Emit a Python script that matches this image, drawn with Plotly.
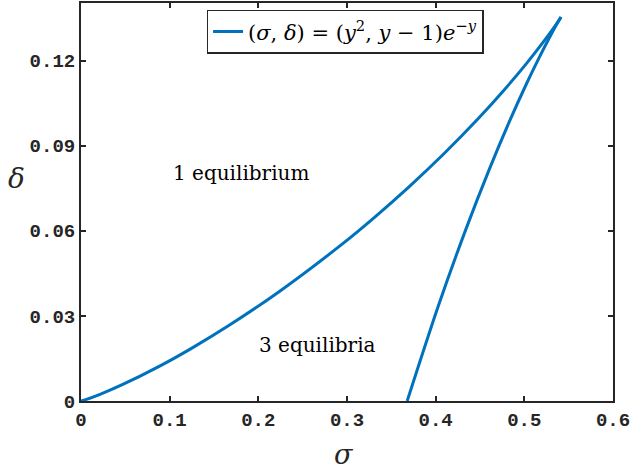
import plotly.graph_objects as go

# points, lower branch: (1/e, 0) up to the cusp
sigma_lower = [0.36788, 0.40277, 0.43371, 0.46058, 0.48333, 0.50204,
               0.51686, 0.52796, 0.53557, 0.53995, 0.54134]
delta_lower = [0.0, 0.033287, 0.060239, 0.081759, 0.098639, 0.11157,
               0.12114, 0.12788, 0.13224, 0.13461, 0.135335]

# upper branch: cusp back down to the origin
sigma_upper = [0.54134, 0.54003, 0.53629, 0.52254, 0.50209, 0.47675,
               0.44808, 0.40955, 0.36992, 0.33072, 0.29305, 0.22496,
               0.16845, 0.12363, 0.089235, 0.044682, 0.02147, 0.00454,
               0.000163, 0.0]
delta_upper = [0.135335, 0.1347, 0.13296, 0.12701, 0.11884, 0.10946,
               0.099574, 0.087242, 0.075493, 0.064675, 0.054947, 0.038882,
               0.026952, 0.018391, 0.012394, 0.0054713, 0.0023482, 0.000409,
               0.0000108, 0.0]

x_ticks = [0, 0.1, 0.2, 0.3, 0.4, 0.5, 0.6]
x_tick_labels = ["0", "0.1", "0.2", "0.3", "0.4", "0.5", "0.6"]
y_ticks = [0, 0.03, 0.06, 0.09, 0.12]
y_tick_labels = ["0", "0.03", "0.06", "0.09", "0.12"]

region_labels = ["1 equilibrium", "3 equilibria"]
region_x = [0.1805, 0.267]
region_y = [0.0804, 0.0197]

line_color = "#0072BD"
axis_color = "#262626"
serif = "DejaVu Serif, serif"

fig = go.Figure()

fig.add_trace(
    go.Scatter(
        x=sigma_lower,
        y=delta_lower,
        mode="lines",
        line=dict(color=line_color, width=3, shape="spline", smoothing=0.8),
        name="(<i>σ</i>, <i>δ</i>) = (<i>y</i><sup>2</sup>, <i>y</i> − 1)<i>e</i><sup>−<i>y</i></sup>",
        legendgroup="curve",
    )
)
fig.add_trace(
    go.Scatter(
        x=sigma_upper,
        y=delta_upper,
        mode="lines",
        line=dict(color=line_color, width=3, shape="spline", smoothing=0.8),
        legendgroup="curve",
        showlegend=False,
    )
)

for label, lx, ly in zip(region_labels, region_x, region_y):
    fig.add_annotation(
        x=lx, y=ly, text=label, showarrow=False,
        font=dict(family=serif, size=20, color="black"),
    )

# axis titles, upright like the original
fig.add_annotation(
    x=0.495, y=-0.135, xref="paper", yref="paper", yanchor="middle",
    text="<i>σ</i>", showarrow=False,
    font=dict(family=serif, size=27, color=axis_color),
)
fig.add_annotation(
    x=-0.121, y=0.56, xref="paper", yref="paper", xanchor="center",
    text="<i>δ</i>", showarrow=False,
    font=dict(family=serif, size=28, color=axis_color),
)

axis_common = dict(
    showline=True,
    linecolor=axis_color,
    linewidth=2,
    mirror="ticks",
    ticks="inside",
    ticklen=5,
    tickwidth=1.5,
    tickcolor=axis_color,
    showgrid=False,
    zeroline=False,
    automargin=False,
    tickfont=dict(family="Liberation Mono, Courier New, monospace", size=19,
                  color=axis_color, weight="bold"),
)

fig.update_layout(
    width=631,
    height=473,
    margin=dict(l=81, r=18, t=3, b=72),
    paper_bgcolor="white",
    plot_bgcolor="white",
    xaxis=dict(range=[0, 0.6], tickvals=x_ticks, ticktext=x_tick_labels, **axis_common),
    yaxis=dict(range=[0, 0.1403], tickvals=y_ticks, ticktext=y_tick_labels, **axis_common),
    legend=dict(
        x=0.236,
        y=0.983,
        xanchor="left",
        yanchor="top",
        bgcolor="white",
        bordercolor=axis_color,
        borderwidth=1.5,
        font=dict(family=serif, size=21, color="black"),
        tracegroupgap=0,
    ),
)

# drop the default page margin so the figure sits at the window's corner
fig.write_html(
    "out.html",
    config={"displayModeBar": False},
    post_script="document.body.style.margin = '0';",
)
